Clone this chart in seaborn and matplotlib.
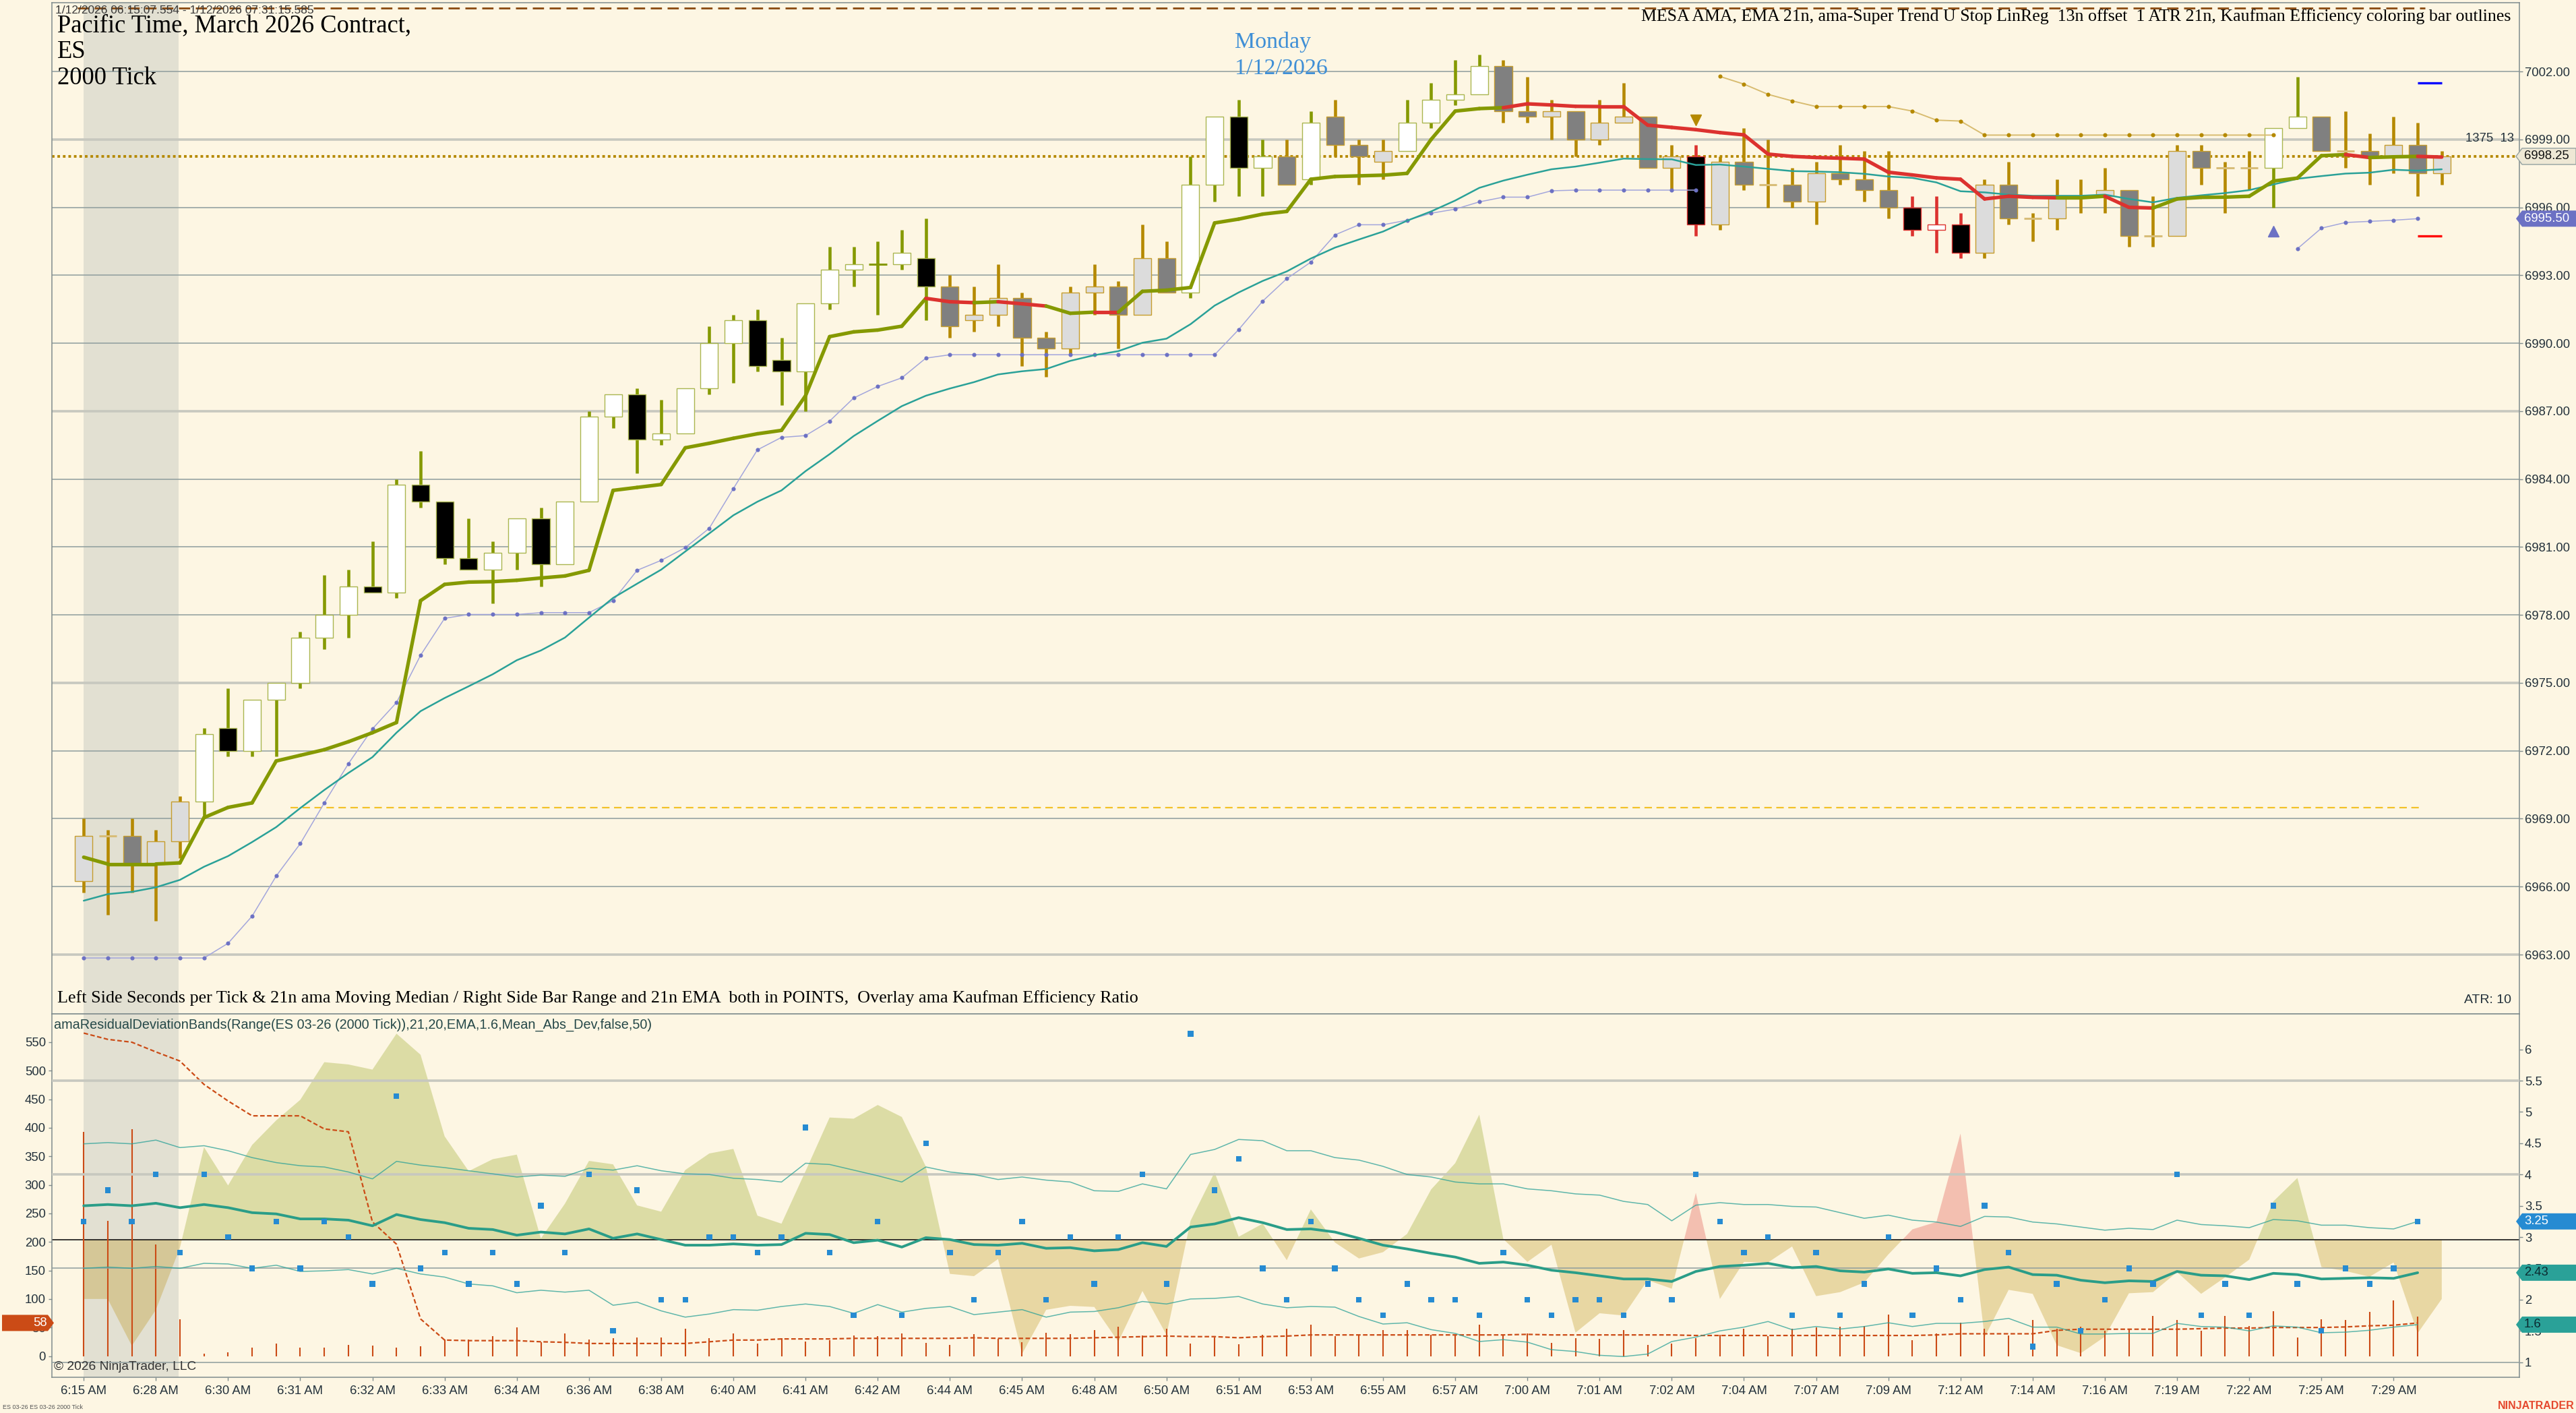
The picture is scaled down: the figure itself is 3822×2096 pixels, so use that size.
import numpy as np
import matplotlib
matplotlib.use("Agg")
import matplotlib.pyplot as plt
from matplotlib.collections import LineCollection
from matplotlib.patches import Polygon
import seaborn as sns

# ---------------- data ----------------
time_labels = ["6:15 AM", "6:28 AM", "6:30 AM", "6:31 AM", "6:32 AM", "6:33 AM",
               "6:34 AM", "6:36 AM", "6:38 AM", "6:40 AM", "6:41 AM", "6:42 AM",
               "6:44 AM", "6:45 AM", "6:48 AM", "6:50 AM", "6:51 AM", "6:53 AM",
               "6:55 AM", "6:57 AM", "7:00 AM", "7:01 AM", "7:02 AM", "7:04 AM",
               "7:07 AM", "7:09 AM", "7:12 AM", "7:14 AM", "7:16 AM", "7:19 AM",
               "7:22 AM", "7:25 AM", "7:29 AM"]   # one label every 3 bars

opens = [6966.25, 6968.25, 6968.25, 6967.0, 6968.0, 6969.75, 6973.0, 6972.0, 6974.25, 6975.0,
         6977.0, 6978.0, 6979.25, 6979.0, 6983.75, 6983.0, 6980.5, 6980.0, 6980.75, 6982.25,
         6980.25, 6983.0, 6986.75, 6987.75, 6985.75, 6986.0, 6988.0, 6990.0, 6991.0, 6989.25,
         6988.75, 6991.75, 6993.25, 6993.5, 6993.5, 6993.75, 6992.5, 6991.0, 6991.25, 6992.0,
         6990.25, 6989.75, 6992.25, 6992.5, 6991.25, 6993.75, 6992.25, 6997.0, 7000.0, 6997.75,
         6998.25, 6997.25, 7000.0, 6998.75, 6998.0, 6998.5, 6999.75, 7000.75, 7001.0, 7002.25,
         7000.25, 7000.0, 7000.25, 6999.0, 6999.75, 7000.0, 6997.75, 6998.25, 6995.25, 6998.0,
         6997.0, 6997.0, 6996.25, 6997.5, 6997.25, 6996.75, 6996.0, 6995.0, 6995.25, 6994.0,
         6997.0, 6995.5, 6995.5, 6996.5, 6996.5, 6996.75, 6994.75, 6994.75, 6998.5, 6997.75,
         6997.75, 6997.75, 6999.5, 7000.0, 6998.5, 6998.5, 6998.25, 6998.75, 6997.5]
highs = [6969.0, 6968.5, 6969.0, 6968.5, 6970.0, 6973.0, 6974.75, 6974.25, 6975.0, 6977.25,
         6979.75, 6980.0, 6981.25, 6984.0, 6985.25, 6983.0, 6982.25, 6981.25, 6982.25, 6982.75,
         6983.0, 6987.0, 6987.75, 6988.0, 6987.5, 6988.0, 6990.75, 6991.25, 6991.5, 6990.25,
         6991.75, 6994.25, 6994.25, 6994.5, 6995.0, 6995.5, 6993.0, 6992.5, 6993.5, 6992.25,
         6990.5, 6992.5, 6993.5, 6992.75, 6995.25, 6994.5, 6998.25, 7000.0, 7000.75, 6999.0,
         6999.0, 7000.25, 7000.75, 6999.0, 6999.0, 7000.75, 7001.5, 7002.5, 7002.75, 7002.5,
         7001.75, 7000.75, 7000.25, 7000.75, 7001.5, 7000.0, 6998.75, 6998.75, 6998.25, 6999.5,
         6999.0, 6997.75, 6998.0, 6998.75, 6998.5, 6998.5, 6996.5, 6996.5, 6995.75, 6997.25,
         6998.0, 6995.75, 6997.25, 6997.25, 6997.75, 6996.75, 6996.5, 6998.75, 6998.75, 6998.0,
         6998.5, 6999.5, 7001.75, 7000.0, 7000.25, 6999.25, 7000.0, 6999.75, 6998.5]
lows = [6965.75, 6964.75, 6965.75, 6964.5, 6967.25, 6969.0, 6971.75, 6971.75, 6971.75, 6974.75,
        6976.5, 6977.0, 6979.0, 6978.75, 6982.75, 6980.25, 6980.0, 6978.5, 6980.0, 6979.25,
        6980.25, 6983.0, 6986.25, 6984.25, 6985.5, 6986.0, 6987.75, 6988.25, 6988.75, 6987.25,
        6987.0, 6991.5, 6992.5, 6991.25, 6993.25, 6991.0, 6990.25, 6990.5, 6990.75, 6989.0,
        6988.5, 6989.5, 6991.25, 6989.75, 6991.25, 6992.25, 6992.0, 6996.25, 6996.5, 6996.5,
        6997.0, 6997.0, 6998.25, 6997.0, 6997.25, 6998.5, 6999.5, 7000.5, 7001.0, 6999.75,
        6999.75, 6999.0, 6998.25, 6998.75, 6999.75, 6997.75, 6996.75, 6994.75, 6995.0, 6996.75,
        6996.0, 6996.0, 6995.25, 6997.0, 6996.25, 6995.5, 6994.75, 6994.0, 6993.75, 6993.75,
        6995.25, 6994.5, 6995.0, 6995.75, 6995.75, 6994.25, 6994.25, 6994.75, 6997.0, 6995.75,
        6996.75, 6996.0, 6999.5, 6998.5, 6997.75, 6997.0, 6997.5, 6996.5, 6997.0]
closes = [6968.25, 6968.25, 6967.0, 6968.0, 6969.75, 6972.75, 6972.0, 6974.25, 6975.0, 6977.0,
          6978.0, 6979.25, 6979.0, 6983.75, 6983.0, 6980.5, 6980.0, 6980.75, 6982.25, 6980.25,
          6983.0, 6986.75, 6987.75, 6985.75, 6986.0, 6988.0, 6990.0, 6991.0, 6989.0, 6988.75,
          6991.75, 6993.25, 6993.5, 6993.5, 6994.0, 6992.5, 6990.75, 6991.25, 6992.0, 6990.25,
          6989.75, 6992.25, 6992.5, 6991.25, 6993.75, 6992.25, 6997.0, 7000.0, 6997.75, 6998.25,
          6997.0, 6999.75, 6998.75, 6998.25, 6998.5, 6999.75, 7000.75, 7001.0, 7002.25, 7000.25,
          7000.0, 7000.25, 6999.0, 6999.75, 7000.0, 6997.75, 6998.25, 6995.25, 6998.0, 6997.0,
          6997.0, 6996.25, 6997.5, 6997.25, 6996.75, 6996.0, 6995.0, 6995.25, 6994.0, 6997.0,
          6995.5, 6995.5, 6996.5, 6996.5, 6996.75, 6994.75, 6994.75, 6998.5, 6997.75, 6997.75,
          6997.75, 6999.5, 7000.0, 6998.5, 6998.5, 6998.25, 6998.75, 6997.5, 6998.25]

# Kaufman efficiency outline class per bar: g = efficient (olive), y = choppy (gold), r = red
efficiency = ("yyyyy" + "ggggggggggggggggggggggggggggggg" + "yyyyyyyyyy" + "gggg" + "y" + "g"
              + "yyy" + "gggg" + "yyyyyyyy" + "r" + "yyyyyyyy" + "rrr" + "yyyyyyyyyyyy"
              + "gg" + "yyyyyy")

mesa_ama = [6967.3, 6967.0, 6967.0, 6967.0, 6967.05, 6969.05, 6969.5, 6969.7, 6971.55, 6971.8,
            6972.05, 6972.4, 6972.8, 6973.25, 6978.63, 6979.35, 6979.45, 6979.47, 6979.53, 6979.63,
            6979.72, 6979.97, 6983.5, 6983.63, 6983.76, 6985.38, 6985.58, 6985.8, 6986.0, 6986.15,
            6987.68, 6990.29, 6990.5, 6990.58, 6990.75, 6991.98, 6991.83, 6991.79, 6991.83, 6991.74,
            6991.64, 6991.32, 6991.37, 6991.37, 6992.29, 6992.34, 6992.46, 6995.31, 6995.48, 6995.7,
            6995.82, 6997.24, 6997.36, 6997.39, 6997.42, 6997.5, 6999.0, 7000.25, 7000.36, 7000.4,
            7000.57, 7000.52, 7000.46, 7000.45, 7000.45, 6999.63, 6999.53, 6999.43, 6999.3, 6999.2,
            6998.35, 6998.25, 6998.2, 6998.17, 6998.13, 6997.55, 6997.43, 6997.3, 6997.24, 6996.37,
            6996.49, 6996.44, 6996.42, 6996.42, 6996.49, 6996.0, 6995.97, 6996.37, 6996.44, 6996.45,
            6996.49, 6997.16, 6997.29, 6998.28, 6998.33, 6998.2, 6998.23, 6998.25, 6998.22]
# colour of the MESA segment that ends on each bar (g up / r down)
mesa_trend = ("gggggggggggggggggggggggggggggggggggg" + "rr" + "g" + "rr" + "gg" + "r"
              + "gggggggggggggggg" + "rrrrrrrrrrrrrrrrrrrrrrr" + "gg" + "rr" + "gggggggg"
              + "r" + "gg" + "r")

ema21 = [6965.38, 6965.67, 6965.77, 6965.97, 6966.3, 6966.88, 6967.35, 6967.97, 6968.63, 6969.47,
         6970.27, 6971.02, 6971.72, 6972.8, 6973.75, 6974.33, 6974.85, 6975.38, 6976.0, 6976.43,
         6977.0, 6977.88, 6978.75, 6979.38, 6980.0, 6980.8, 6981.6, 6982.4, 6983.0, 6983.5,
         6984.35, 6985.1, 6985.9, 6986.57, 6987.22, 6987.68, 6988.0, 6988.28, 6988.62, 6988.76,
         6988.86, 6989.22, 6989.47, 6989.65, 6990.02, 6990.2, 6990.84, 6991.66, 6992.24, 6992.75,
         6993.17, 6993.74, 6994.22, 6994.58, 6994.93, 6995.41, 6995.82, 6996.3, 6996.86, 6997.18,
         6997.44, 6997.68, 6997.8, 6997.97, 6998.15, 6998.13, 6998.12, 6997.87, 6997.89, 6997.8,
         6997.7, 6997.6, 6997.58, 6997.55, 6997.48, 6997.36, 6997.3, 6997.1, 6996.71, 6996.66,
         6996.56, 6996.51, 6996.51, 6996.51, 6996.56, 6996.37, 6996.22, 6996.42, 6996.53, 6996.63,
         6996.76, 6997.01, 6997.26, 6997.38, 6997.49, 6997.53, 6997.66, 6997.62, 6997.68]

# super trend stops (first bar index, values)
lower_stop_a_start = 0
lower_stop_a = [6962.85, 6962.85, 6962.85, 6962.85, 6962.85, 6962.85, 6963.5, 6964.7, 6966.47, 6967.9,
                6969.7, 6971.43, 6972.97, 6974.13, 6976.22, 6977.85, 6978.02, 6978.02, 6978.02, 6978.1,
                6978.1, 6978.1, 6978.63, 6979.97, 6980.41, 6980.97, 6981.83, 6983.58, 6985.29, 6985.84,
                6985.92, 6986.56, 6987.58, 6988.09, 6988.47, 6989.34, 6989.49, 6989.49, 6989.49, 6989.49,
                6989.49, 6989.49, 6989.49, 6989.49, 6989.49, 6989.49, 6989.49, 6989.49, 6990.6, 6991.86,
                6992.85, 6993.58, 6994.78, 6995.23, 6995.23, 6995.43, 6995.74, 6995.92, 6996.24, 6996.45,
                6996.45, 6996.73, 6996.76, 6996.76, 6996.76, 6996.76, 6996.76, 6996.76]
lower_stop_b_start = 92
lower_stop_b = [6994.17, 6995.08, 6995.33, 6995.38, 6995.43, 6995.5]
upper_stop_start = 68
upper_stop = [7001.78, 7001.44, 7000.99, 7000.7, 7000.45, 7000.45, 7000.45, 7000.45, 7000.25, 6999.85,
              6999.81, 6999.19, 6999.19, 6999.19, 6999.19, 6999.19, 6999.19, 6999.19, 6999.19, 6999.19,
              6999.19, 6999.19, 6999.19, 6999.19]

down_signal = (67, 6999.85)
up_signal = (91, 6994.93)
target_hi, target_lo, target_bars = 7001.5, 6994.75, (97, 98)
level_yellow, level_yellow_span = 6969.5, (8.6, 97.2)
level_top, level_top_span = 7004.8, (-0.25, 97.3)
session_shade = (0.0, 3.95)

# lower panel (bars 0..97)
sec_per_tick = [393, 237, 398, 195, 64, 4, 6, 15, 22, 15,
                15, 19, 18, 15, 17, 29, 29, 35, 50, 24,
                39, 29, 31, 32, 33, 48, 31, 40, 22, 31,
                25, 28, 36, 35, 39, 23, 19, 38, 30, 24,
                41, 38, 46, 51, 36, 48, 22, 32, 21, 37,
                48, 55, 35, 37, 45, 45, 37, 37, 55, 37,
                39, 23, 31, 30, 45, 19, 22, 31, 37, 48,
                35, 48, 50, 51, 52, 73, 28, 39, 58, 48,
                36, 63, 48, 51, 44, 48, 70, 63, 44, 70,
                52, 79, 32, 64, 63, 77, 98, 69]
sec_median = [566, 555, 550, 533, 517, 476, 447, 421, 421, 421,
              398, 393, 235, 196, 65, 28, 27, 27, 27, 25,
              24, 22, 22, 22, 22, 22, 25, 28, 28, 30,
              30, 30, 31, 31, 31, 31, 31, 32, 31, 31,
              31, 31, 32, 33, 34, 35, 34, 34, 32, 34,
              35, 37, 37, 37, 37, 37, 37, 37, 37, 37,
              38, 37, 37, 37, 37, 37, 37, 36, 36, 36,
              36, 36, 36, 36, 36, 36, 36, 37, 39, 39,
              39, 39, 45, 47, 47, 47, 47, 47, 48, 49,
              49, 50, 50, 50, 51, 53, 54, 58]
range_mid = [3.50, 3.52, 3.50, 3.54, 3.47, 3.52, 3.47, 3.39, 3.37, 3.29,
             3.29, 3.27, 3.18, 3.36, 3.28, 3.23, 3.14, 3.12, 3.03, 3.08,
             3.05, 3.13, 2.98, 3.05, 2.96, 2.87, 2.87, 2.89, 2.87, 2.88,
             3.06, 3.04, 2.91, 2.95, 2.84, 2.99, 2.96, 2.88, 2.87, 2.90,
             2.82, 2.83, 2.78, 2.80, 2.91, 2.85, 3.16, 3.21, 3.31, 3.23,
             3.12, 3.13, 3.08, 2.98, 2.87, 2.81, 2.74, 2.68, 2.58, 2.60,
             2.55, 2.47, 2.43, 2.38, 2.33, 2.33, 2.29, 2.45, 2.53, 2.55,
             2.58, 2.51, 2.53, 2.46, 2.44, 2.49, 2.42, 2.43, 2.38, 2.48,
             2.52, 2.40, 2.39, 2.31, 2.27, 2.30, 2.29, 2.45, 2.39, 2.38,
             2.32, 2.42, 2.40, 2.33, 2.34, 2.35, 2.34, 2.43]
range_up = [4.49, 4.51, 4.49, 4.55, 4.43, 4.46, 4.38, 4.27, 4.19, 4.14,
            4.12, 4.04, 3.93, 4.21, 4.15, 4.11, 4.06, 4.01, 3.96, 3.99,
            3.97, 4.10, 4.07, 4.14, 4.06, 4.01, 4.00, 3.94, 3.92, 3.88,
            4.18, 4.16, 4.07, 3.98, 3.88, 4.12, 4.04, 4.00, 3.92, 3.96,
            3.91, 3.88, 3.74, 3.73, 3.85, 3.77, 4.32, 4.40, 4.56, 4.54,
            4.38, 4.38, 4.27, 4.23, 4.13, 4.00, 3.96, 3.88, 3.85, 3.85,
            3.77, 3.74, 3.69, 3.67, 3.57, 3.52, 3.26, 3.51, 3.55, 3.52,
            3.52, 3.49, 3.48, 3.39, 3.30, 3.35, 3.27, 3.24, 3.17, 3.33,
            3.32, 3.24, 3.21, 3.16, 3.11, 3.14, 3.12, 3.27, 3.20, 3.18,
            3.15, 3.28, 3.26, 3.19, 3.19, 3.15, 3.13, 3.25]
range_lo = [2.50, 2.52, 2.50, 2.53, 2.50, 2.58, 2.57, 2.50, 2.55, 2.45,
            2.46, 2.48, 2.41, 2.50, 2.41, 2.36, 2.25, 2.22, 2.11, 2.15,
            2.12, 2.15, 1.91, 1.96, 1.82, 1.72, 1.77, 1.84, 1.83, 1.89,
            1.93, 1.89, 1.78, 1.92, 1.80, 1.86, 1.89, 1.76, 1.80, 1.84,
            1.72, 1.80, 1.81, 1.87, 1.97, 1.93, 2.01, 2.02, 2.05, 1.93,
            1.87, 1.89, 1.88, 1.73, 1.61, 1.63, 1.52, 1.46, 1.33, 1.36,
            1.32, 1.20, 1.17, 1.11, 1.09, 1.13, 1.33, 1.40, 1.50, 1.56,
            1.65, 1.52, 1.57, 1.53, 1.57, 1.63, 1.57, 1.62, 1.62, 1.65,
            1.70, 1.56, 1.56, 1.45, 1.45, 1.46, 1.46, 1.62, 1.57, 1.56,
            1.50, 1.58, 1.56, 1.47, 1.48, 1.51, 1.56, 1.60]
# Kaufman efficiency overlay, drawn on the left scale around its mid line
eff_mid = 204
eff_overlay = [100, 100, 18, 81, 190, 366, 299, 370, 413, 449,
               515, 511, 502, 565, 528, 385, 324, 345, 353, 206,
               267, 342, 336, 264, 253, 326, 355, 363, 246, 232,
               324, 418, 416, 440, 419, 332, 144, 140, 170, 4,
               81, 88, 86, 25, 114, 37, 237, 322, 209, 232,
               168, 257, 199, 171, 182, 214, 292, 338, 423, 205,
               165, 195, 41, 75, 71, 133, 118, 286, 100, 165,
               164, 192, 105, 112, 129, 178, 222, 235, 390, 33,
               116, 109, 19, 5, 34, 110, 112, 147, 109, 138,
               169, 271, 312, 156, 149, 139, 164, 40, 100]
eff_against = [67, 76, 77, 78]   # pink spikes

# ---------------- layout (pixels of the 3823x2096 picture) ----------------
W, H = 3823, 2096
LEFT_PX, RIGHT_PX = 77, 3738
TOP_PX, MID_PX, BOT_PX = 4, 1503.5, 2043
BAR0_PX, BAR_PX = 124.2, 35.7
P_REF, P_REF_PX, P_SCALE = 7002, 106, 33.59
S_ZERO_PX, S_SCALE = 2011.5, 0.8464
R_REF, R_REF_PX, R_SCALE = 3, 1835, 92.8

BG = "#fdf6e3"
TXT = "#22303a"
GREEN, GOLD, RED = "#859900", "#b58900", "#dc322f"
CYAN, BLUE, VIOLET, ORANGE = "#2aa198", "#268bd2", "#6c71c4", "#cb4b16"
GRID_DARK, GRID_LIGHT, FRAME = "#8e9d9d", "#c7c8bf", "#7f8c8d"

sns.set_theme(style="white")
plt.rcParams["font.family"] = ["Liberation Sans", "DejaVu Sans"]
plt.rcParams["axes.unicode_minus"] = False

fig = plt.figure(figsize=(W / 100, H / 100), dpi=100, facecolor=BG)


def fx(px):
    return px / W


def fy(py):
    return 1 - py / H


ax_p = fig.add_axes([fx(LEFT_PX), fy(MID_PX), fx(RIGHT_PX) - fx(LEFT_PX), fy(TOP_PX) - fy(MID_PX)])
ax_l = fig.add_axes([fx(LEFT_PX), fy(BOT_PX), fx(RIGHT_PX) - fx(LEFT_PX), fy(MID_PX) - fy(BOT_PX)],
                    sharex=ax_p)
ax_r = ax_l.twinx()

n = len(opens)
bars = np.arange(n)
lbars = np.arange(len(sec_per_tick))
x_lo = (LEFT_PX - BAR0_PX) / BAR_PX
x_hi = (RIGHT_PX - BAR0_PX) / BAR_PX

# ---------------- price panel ----------------
ax_p.set_facecolor(BG)
ax_p.axvspan(*session_shade, color="#93a1a1", alpha=0.25, lw=0, zorder=0.5)
for t in np.arange(6963, 7003, 3):
    major = (t - 6963) % 12 == 0
    ax_p.axhline(t, color=GRID_LIGHT if major else GRID_DARK, lw=2.6 if major else 1.1, zorder=1)

ax_p.hlines(level_top, *level_top_span, colors="#8a4a10", lw=2.0, linestyles=(0, (6, 3)), zorder=2)
ax_p.hlines(level_yellow, *level_yellow_span, colors="#f2c22a", lw=1.6, linestyles=(0, (5, 3)), zorder=2)
ax_p.axhline(closes[-1], color=GOLD, lw=2.8, ls=(0, (1, 1.1)), zorder=2)

wick_col = {"g": GREEN, "y": GOLD, "r": RED}
edge_col = {"g": "#aab650", "y": "#c69d2e", "r": RED}
o_arr, c_arr = np.array(opens), np.array(closes)
ax_p.vlines(bars, lows, highs, colors=[wick_col[k] for k in efficiency], lw=3.3, zorder=3)
body = c_arr != o_arr
face = []
for o, c, k in zip(opens, closes, efficiency):
    if c > o:
        face.append("#dcdcdc" if k == "y" else "#ffffff")
    else:
        face.append("#808080" if k == "y" else "#000000")
ax_p.bar(bars[body], np.abs(c_arr - o_arr)[body], bottom=np.minimum(o_arr, c_arr)[body], width=0.73,
         color=np.array(face)[body], edgecolor=np.array([edge_col[k] for k in efficiency])[body],
         linewidth=1.0, zorder=4)
doji = ~body
ax_p.hlines(o_arr[doji], bars[doji] - 0.37, bars[doji] + 0.37,
            colors=[("#d8bd78" if efficiency[i] == "y" else wick_col[efficiency[i]]) for i in bars[doji]],
            lw=2.2, zorder=4)

ax_p.hlines(target_hi, *target_bars, colors="#0000ff", lw=2.4, zorder=6)
ax_p.hlines(target_lo, *target_bars, colors="#ff0000", lw=2.4, zorder=6)

# super trend stops
xa = np.arange(lower_stop_a_start, lower_stop_a_start + len(lower_stop_a))
xb = np.arange(lower_stop_b_start, lower_stop_b_start + len(lower_stop_b))
xu = np.arange(upper_stop_start, upper_stop_start + len(upper_stop))
for xs, ys in ((xa, lower_stop_a), (xb, lower_stop_b)):
    ax_p.plot(xs, ys, color="#a3a6dc", lw=1.1, zorder=5)
    ax_p.plot(xs, ys, ls="none", marker="o", ms=3.4, color=VIOLET, zorder=5)
ax_p.plot(xu, upper_stop, color="#d8bc70", lw=1.4, zorder=5)
ax_p.plot(xu, upper_stop, ls="none", marker="o", ms=3.4, color=GOLD, zorder=5)

sns.lineplot(x=bars, y=ema21, ax=ax_p, color=CYAN, lw=1.8, zorder=6)

pts = np.column_stack([bars, mesa_ama])
segs = np.stack([pts[:-1], pts[1:]], axis=1)
seg_cols = [RED if mesa_trend[i + 1] == "r" else GREEN for i in range(n - 1)]
ax_p.add_collection(LineCollection(segs, colors=seg_cols, linewidths=3.8, capstyle="round", zorder=7))

ax_p.plot(*down_signal, marker="v", ms=11, color=GOLD, ls="none", zorder=8)
ax_p.plot(*up_signal, marker="^", ms=11, color=VIOLET, ls="none", zorder=8)

ax_p.set_xlim(x_lo, x_hi)
ax_p.set_ylim(P_REF - (MID_PX - P_REF_PX) / P_SCALE, P_REF + (P_REF_PX - TOP_PX) / P_SCALE)
ax_p.yaxis.tick_right()
ax_p.set_yticks(np.arange(6963, 7003, 3))
ax_p.yaxis.set_major_formatter(matplotlib.ticker.FormatStrFormatter("%.2f"))
ax_p.tick_params(axis="y", which="both", right=True, left=False, length=3.6, width=1, color=FRAME,
                 labelsize=13.3, labelcolor=TXT, pad=2)
ax_p.tick_params(axis="x", bottom=False, labelbottom=False)
ax_p.set_xlabel("")
ax_p.set_ylabel("")

# ---------------- lower panel ----------------
ax_l.set_facecolor(BG)
ax_l.axvspan(*session_shade, color="#93a1a1", alpha=0.25, lw=0, zorder=0.5)
eff = np.array(eff_overlay, dtype=float)
pink = np.isin(bars, eff_against)
ax_l.fill_between(bars, eff, eff_mid, where=(eff >= eff_mid) & ~pink, interpolate=True,
                  color=GREEN, alpha=0.27, lw=0, zorder=1)
ax_l.fill_between(bars, eff, eff_mid, where=(eff >= eff_mid) & pink, interpolate=True,
                  color=RED, alpha=0.28, lw=0, zorder=1)
ax_l.fill_between(bars, eff, eff_mid, where=eff < eff_mid, interpolate=True,
                  color=GOLD, alpha=0.28, lw=0, zorder=1)
ax_l.axhline(eff_mid, color="#161616", lw=1.2, zorder=2)
ax_l.vlines(lbars, 0, sec_per_tick, colors=ORANGE, lw=1.5, zorder=3)
ax_l.plot(lbars, sec_median, color=ORANGE, lw=1.6, ls=(0, (3, 1.6)), zorder=4)

ax_l.set_xlim(x_lo, x_hi)
ax_l.set_ylim((S_ZERO_PX - BOT_PX) / S_SCALE, (S_ZERO_PX - MID_PX) / S_SCALE)
ax_l.set_yticks(np.arange(0, 551, 50))
ax_l.tick_params(axis="y", left=True, length=3.6, width=1, color=FRAME, labelsize=13.3,
                 labelcolor=TXT, pad=3)
ax_l.set_xticks(bars[::3][:len(time_labels)])
ax_l.set_xticklabels(time_labels)
ax_l.tick_params(axis="x", bottom=True, length=3.6, width=1, color=FRAME, labelsize=13.3,
                 labelcolor=TXT, pad=5)

for v, major in ((5.5, True), (4.0, True), (2.5, False), (1.0, False)):
    ax_r.axhline(v, color=GRID_LIGHT if major else GRID_DARK, lw=2.6 if major else 1.1, zorder=1)
sns.lineplot(x=lbars, y=range_up, ax=ax_r, color=CYAN, lw=1.1, alpha=0.75, zorder=3)
sns.lineplot(x=lbars, y=range_lo, ax=ax_r, color=CYAN, lw=1.1, alpha=0.75, zorder=3)
sns.lineplot(x=lbars, y=range_mid, ax=ax_r, color="#2a9d88", lw=2.8, zorder=3)
bar_range = (np.array(highs) - np.array(lows))[:len(lbars)]
sns.scatterplot(x=lbars, y=bar_range, ax=ax_r, marker="s", s=36, color=BLUE, edgecolor="none",
                linewidth=0, zorder=5)
ax_r.set_ylim(R_REF - (BOT_PX - R_REF_PX) / R_SCALE, R_REF + (R_REF_PX - MID_PX) / R_SCALE)
ax_r.set_yticks(np.arange(1, 6.01, 0.5))
ax_r.yaxis.set_major_formatter(matplotlib.ticker.FormatStrFormatter("%g"))
ax_r.tick_params(axis="y", right=True, length=3.6, width=1, color=FRAME, labelsize=13.3,
                 labelcolor=TXT, pad=2)
ax_r.set_xlim(x_lo, x_hi)
for a in (ax_l, ax_r):
    a.set_xlabel("")
    a.set_ylabel("")

for a in (ax_p, ax_l):
    for s in a.spines.values():
        s.set_color(FRAME)
        s.set_linewidth(1.1)
for s in ax_r.spines.values():
    s.set_visible(False)


# ---------------- value tags on the axes ----------------
def tag(ax, value, label, face, color, x0, x1, point="left", text_x=None, edge="none"):
    ypix = ax.transData.transform((0, value))[1]
    h = 12
    if point == "left":
        verts = [(x0, ypix), (x0 + 9, ypix + h), (x1, ypix + h), (x1, ypix - h), (x0 + 9, ypix - h)]
        tx, ha = (text_x if text_x else x0 + 12), "left"
    else:
        verts = [(x1, ypix), (x1 - 9, ypix + h), (x0, ypix + h), (x0, ypix - h), (x1 - 9, ypix - h)]
        tx, ha = (text_x if text_x else x1 - 10), "right"
    fig.add_artist(Polygon([(vx / W, vy / H) for vx, vy in verts], closed=True, facecolor=face,
                           edgecolor=edge, lw=1, transform=fig.transFigure, zorder=20))
    fig.text(tx / W, ypix / H, label, ha=ha, va="center", fontsize=13.3, color=color, zorder=21)


tag(ax_p, closes[-1], f"{closes[-1]:.2f}", "#eee8d5", "#111111", 3733, 3822, text_x=3745, edge="#93a1a1")
tag(ax_p, lower_stop_b[-1], f"{lower_stop_b[-1]:.2f}", VIOLET, "white", 3733, 3822, text_x=3745)
tag(ax_r, bar_range[-1], f"{bar_range[-1]:g}", BLUE, "white", 3733, 3822, text_x=3745)
tag(ax_r, range_mid[-1], f"{range_mid[-1]:g}", CYAN, "#0b2a30", 3733, 3822, text_x=3745)
tag(ax_r, range_lo[-1], f"{range_lo[-1]:g}", CYAN, "#0b2a30", 3733, 3822, text_x=3745)
tag(ax_l, sec_median[-1], f"{sec_median[-1]}", ORANGE, "white", 3, 80, point="right", text_x=70)

# ---------------- texts ----------------
serif = ["Liberation Serif", "DejaVu Serif"]
fig.text(fx(82), fy(15), "1/12/2026 06:15:07.554 - 1/12/2026 07:31:15.585", fontsize=12.5,
         color="#3a3a3a", va="center")
for i, line in enumerate(["Pacific Time, March 2026 Contract,", "ES", "2000 Tick"]):
    fig.text(fx(85), fy(38 + 39 * i), line, family=serif, fontsize=26.3, color="#000000", va="center")
fig.text(fx(3725), fy(25), "MESA AMA, EMA 21n, ama-Super Trend U Stop LinReg  13n offset  1 ATR 21n, "
         "Kaufman Efficiency coloring bar outlines", family=serif, fontsize=18.6, color="#000000",
         ha="right", va="center")
fig.text(fx(1832), fy(63), "Monday", family=serif, fontsize=24.5, color="#3f8fd6", va="center")
fig.text(fx(1832), fy(102), "1/12/2026", family=serif, fontsize=24.5, color="#3f8fd6", va="center")
fig.text(fx(3730), fy(206), "1375  13", fontsize=13.3, color=TXT, ha="right", va="center")
fig.text(fx(85), fy(1481), "Left Side Seconds per Tick & 21n ama Moving Median / Right Side Bar Range "
         "and 21n EMA  both in POINTS,  Overlay ama Kaufman Efficiency Ratio", family=serif,
         fontsize=18.8, color="#000000", va="center")
fig.text(fx(3726), fy(1484), "ATR: 10", fontsize=14, color=TXT, ha="right", va="center")
fig.text(fx(80), fy(1520), "amaResidualDeviationBands(Range(ES 03-26 (2000 Tick)),21,20,EMA,1.6,"
         "Mean_Abs_Dev,false,50)", fontsize=14.3, color="#254848", va="center")
fig.text(fx(80), fy(2027), "\u00a9 2026 NinjaTrader, LLC", fontsize=13.8, color="#333333", va="center")
fig.text(fx(4), fy(2087), "ES 03-26 ES 03-26 2000 Tick", fontsize=6.5, color="#555555", va="center")
fig.text(fx(3820), fy(2086), "NINJATRADER", fontsize=11.5, color="#e5472d", weight="bold",
         ha="right", va="center")

fig.savefig("out.png", dpi=100, facecolor=BG)
